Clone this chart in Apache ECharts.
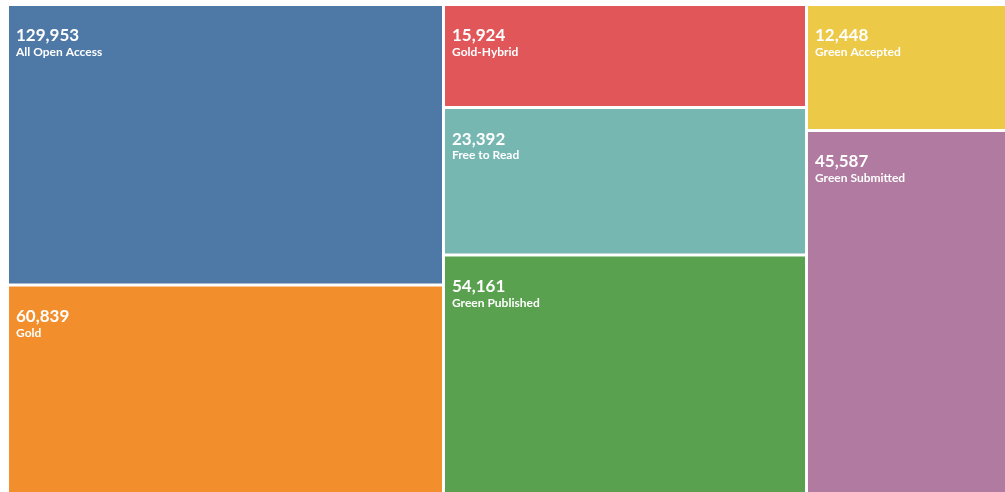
<!DOCTYPE html>
<html>
<head>
<meta charset="utf-8">
<script src="https://cdn.jsdelivr.net/npm/echarts@6/dist/echarts.min.js"></script>
<style>
  html, body { margin: 0; padding: 0; background: #fff; }
  #chart { width: 1005px; height: 492px; }
</style>
</head>
<body>
<div id="chart"></div>
<script>
// Categories and their counts (as labelled)
const categories = ['All Open Access', 'Gold', 'Gold-Hybrid', 'Free to Read', 'Green Published', 'Green Accepted', 'Green Submitted'];
const counts = [129953, 60839, 15924, 23392, 54161, 12448, 45587];
// Relative tile sizes (tile areas are not proportional to the counts)
const tileSizes = [122300, 90900, 37400, 53500, 86600, 25200, 72600];
const colors = ['#4e79a7', '#f28e2b', '#e15759', '#76b7b2', '#59a14f', '#edc948', '#b07aa1'];

const data = categories.map((name, i) => ({
  name: name,
  value: [tileSizes[i], counts[i]],
  itemStyle: { color: colors[i] }
}));

const chart = echarts.init(document.getElementById('chart'));
chart.setOption({
  animation: false,
  series: [{
    type: 'treemap',
    left: 9,
    top: 6,
    right: 0,
    bottom: 0,
    roam: false,
    nodeClick: false,
    sort: false,
    breadcrumb: { show: false },
    itemStyle: { gapWidth: 3, borderWidth: 0, borderColor: '#fff' },
    label: {
      show: true,
      position: 'insideTopLeft',
      padding: [20, 0, 0, 7],
      formatter: function (p) {
        return '{v|' + p.value[1].toLocaleString('en-US') + '}\n{n|' + p.name + '}';
      },
      rich: {
        v: { fontFamily: 'Lato', fontWeight: 'bold', fontSize: 17, lineHeight: 20, color: '#fff' },
        n: { fontFamily: 'Lato', fontWeight: 'bold', fontSize: 12, lineHeight: 13, color: '#fff' }
      }
    },
    emphasis: { disabled: true },
    data: data
  }]
});
</script>
</body>
</html>
